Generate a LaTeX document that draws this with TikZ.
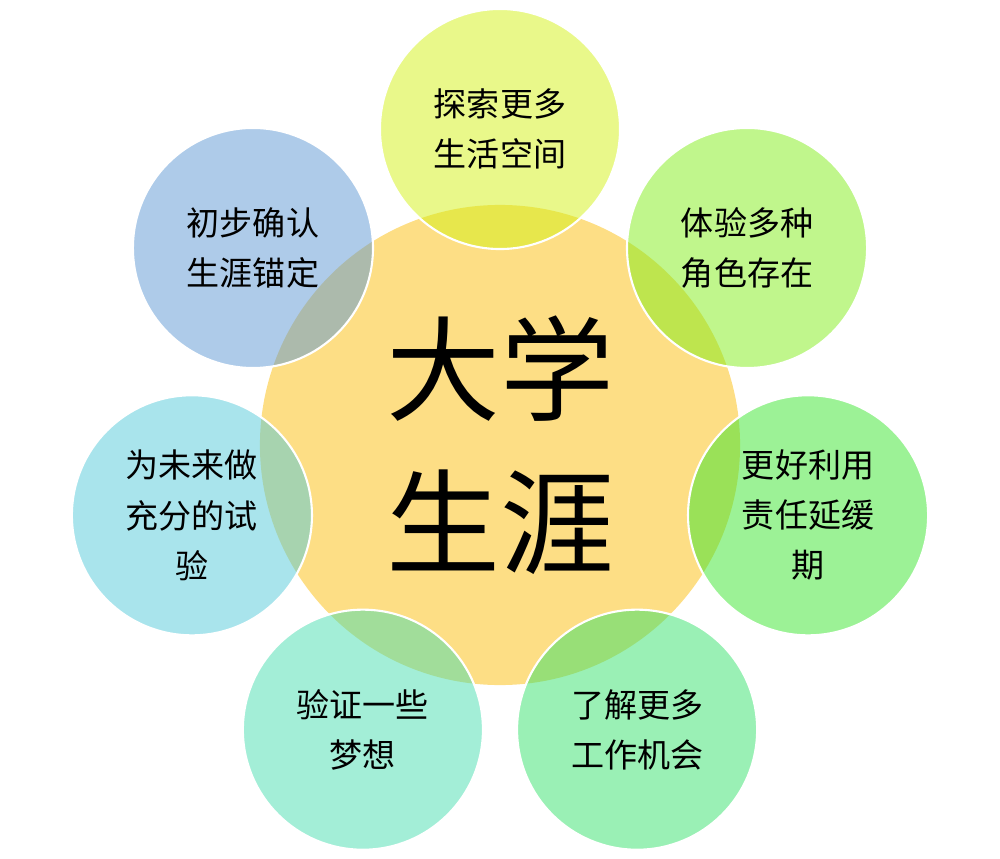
\documentclass[tikz,border=0pt]{standalone}
\usepackage{fontspec}
\setmainfont{Noto Sans CJK SC}
\usetikzlibrary{positioning, calc}

\definecolor{coreyellow}{RGB}{253,222,133}
\definecolor{explore}{RGB}{211,241,21}
\definecolor{roles}{RGB}{129,237,25}
\definecolor{delay}{RGB}{57,229,45}
\definecolor{jobs}{RGB}{53,225,107}
\definecolor{dreams}{RGB}{71,221,175}
\definecolor{trial}{RGB}{83,201,217}
\definecolor{anchor}{RGB}{93,151,211}

\begin{document}
\begin{tikzpicture}[x=0.025cm, y=0.025cm,
  core/.style={circle, fill=coreyellow, minimum size=12cm, inner sep=0pt,
               align=center, font=\fontsize{81}{109}\selectfont},
  bubble/.style={circle, draw=white, line width=1.5pt, minimum size=6cm,
                 inner sep=0pt, fill opacity=0.5, text opacity=1,
                 align=center, font=\fontsize{23.5}{35.6}\selectfont}]
  \useasboundingbox (0,0) rectangle (1000,858);

  % Centre circle
  \node[core] (career) at (500,413) {\raisebox{3pt}{\parbox{7cm}{\centering 大学\\生涯}}};

  % Surrounding bubbles, clockwise from the top
  \foreach \i/\c/\t in {0/explore/{探索更多\\生活空间},
                        1/roles/{体验多种\\角色存在},
                        2/delay/{更好利用\\责任延缓\\期},
                        3/jobs/{了解更多\\工作机会},
                        4/dreams/{验证一些\\梦想},
                        5/trial/{为未来做\\充分的试\\验},
                        6/anchor/{初步确认\\生涯锚定}} {
    \node[bubble, fill=\c] (bubble\i) at ($(career)+(90-\i*51.4286:316)$) {\t};
  }
\end{tikzpicture}
\end{document}
